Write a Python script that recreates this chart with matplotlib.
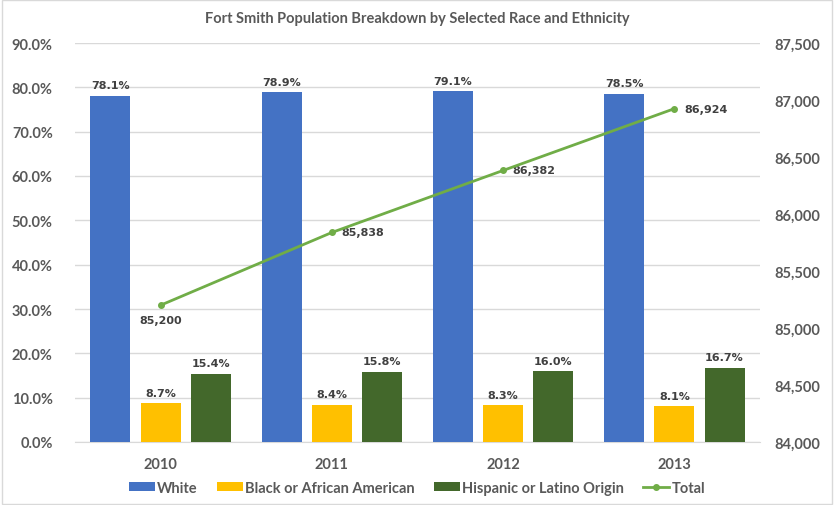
import matplotlib
matplotlib.use("Agg")
import matplotlib.pyplot as plt
from matplotlib.ticker import FuncFormatter, MultipleLocator
import numpy as np

years = ["2010", "2011", "2012", "2013"]
white = [78.1, 78.9, 79.1, 78.5]
black = [8.7, 8.4, 8.3, 8.1]
hispanic = [15.4, 15.8, 16.0, 16.7]
total = [85200, 85838, 86382, 86924]

plt.rcParams['font.family'] = ['Lato', 'DejaVu Sans']
txt = '#595959'

fig = plt.figure(figsize=(8.34, 5.06), dpi=100)
ax = fig.add_axes([75/834, 1-443/506, 685/834, 399/506])
ax2 = ax.twinx()

x = np.arange(len(years))
w = 0.234
off = 0.293
c_w, c_b, c_h, c_t = '#4472C4', '#FFC000', '#43682B', '#70AD47'
b1 = ax.bar(x - off, white, w, color=c_w, label='White', zorder=3)
b2 = ax.bar(x, black, w, color=c_b, label='Black or African American', zorder=3)
b3 = ax.bar(x + off, hispanic, w, color=c_h, label='Hispanic or Latino Origin', zorder=3)
for bars, vals in ((b1, white), (b2, black), (b3, hispanic)):
    for r, v in zip(bars, vals):
        ax.annotate(f"{v:.1f}%", (r.get_x() + r.get_width()/2, v), xytext=(0, 4),
                    textcoords='offset points', ha='center', va='bottom',
                    fontsize=8, fontweight='bold', color='#404040', family='DejaVu Sans')

ax.set_ylim(0, 90)
ax.yaxis.set_major_locator(MultipleLocator(10))
ax.yaxis.set_major_formatter(FuncFormatter(lambda v, p: f"{v:.1f}%"))
ax.set_xlim(-0.5, 3.5)
ax.set_xticks(x)
ax.set_xticklabels(years)
ax.grid(axis='y', color='#D9D9D9', linewidth=1, zorder=0)
ax.set_axisbelow(True)

ln, = ax2.plot(x, total, color=c_t, marker='o', markersize=4, linewidth=2, label='Total', zorder=4)
ax2.set_ylim(84000, 87500)
ax2.yaxis.set_major_locator(MultipleLocator(500))
ax2.yaxis.set_major_formatter(FuncFormatter(lambda v, p: f"{int(v):,}"))
for i, v in enumerate(total):
    if i == 0:
        ax2.annotate(f"{v:,}", (x[i], v), xytext=(0, -7), textcoords='offset points',
                     ha='center', va='top', fontsize=8, fontweight='bold', color='#404040', family='DejaVu Sans')
    else:
        ax2.annotate(f"{v:,}", (x[i], v), xytext=(7, 0), textcoords='offset points',
                     ha='left', va='center', fontsize=8, fontweight='bold', color='#404040', family='DejaVu Sans')

for a in (ax, ax2):
    for s in a.spines.values():
        s.set_visible(False)
    a.tick_params(length=0, colors=txt, labelsize=10.5)
    for lab in a.get_yticklabels() + a.get_xticklabels():
        lab.set_fontweight('bold')
ax.spines['bottom'].set_visible(True)
ax.spines['bottom'].set_color('#D9D9D9')
ax.tick_params(axis='x', pad=11)
ax.tick_params(axis='y', pad=16)
ax2.tick_params(axis='y', pad=10)

fig.text(0.5, 1-19/506, "Fort Smith Population Breakdown by Selected Race and Ethnicity",
         ha='center', va='center', fontsize=10.5, fontweight='bold', color=txt)

handles = [b1, b2, b3, ln]
leg = fig.legend(handles, [h.get_label() for h in handles], loc='center',
                 bbox_to_anchor=(0.5, 1-489/506), ncol=4, frameon=False,
                 fontsize=10.5, handlelength=1.8, handleheight=0.6, handletextpad=0.15,
                 columnspacing=1.3)
for t in leg.get_texts():
    t.set_color(txt)
    t.set_fontweight('bold')

fig.patches.append(plt.Rectangle((0.002, 0.002), 0.996, 0.996, transform=fig.transFigure,
                                 fill=False, edgecolor='#D9D9D9', linewidth=1))
fig.savefig("out.png", dpi=100)
